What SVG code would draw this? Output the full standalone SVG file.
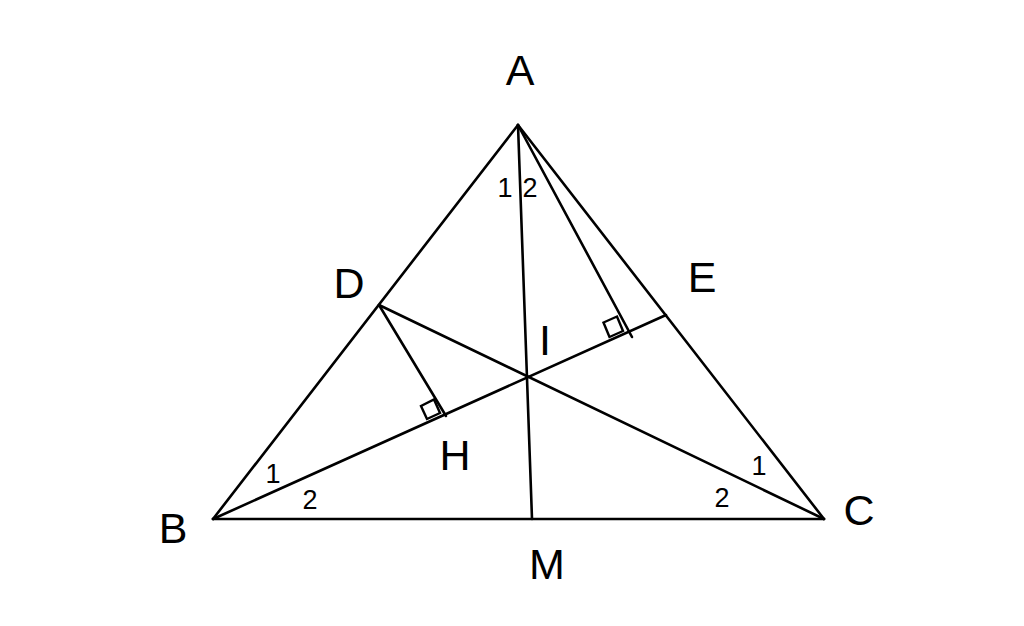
<svg xmlns="http://www.w3.org/2000/svg" width="1024" height="626" viewBox="0 0 1024 626">
<style>
.ln{stroke:#000;stroke-width:2.6;fill:none;stroke-linecap:round;stroke-linejoin:miter}
.sq{stroke:#000;stroke-width:2.4;fill:none}
.lb{font-family:"Liberation Sans",Arial,sans-serif;font-size:43px;fill:#000;text-anchor:middle}
.nm{font-family:"Liberation Sans",Arial,sans-serif;font-size:27px;fill:#000;text-anchor:middle}
</style>
<rect width="1024" height="626" fill="#fff"/>
<g id="connectors">
<line class="ln" x1="518" y1="125" x2="213" y2="519"/>
<line class="ln" x1="518" y1="125" x2="824" y2="519"/>
<line class="ln" x1="213" y1="519" x2="824" y2="519"/>
<line class="ln" x1="518" y1="125" x2="532" y2="519"/>
<line class="ln" x1="213" y1="519" x2="666" y2="315"/>
<line class="ln" x1="824" y1="519" x2="379" y2="305"/>
<line class="ln" x1="379" y1="305" x2="446" y2="416"/>
<line class="ln" x1="518" y1="125" x2="632" y2="337"/>
<polygon class="sq" points="427,419 421,406 434,399.5 440,413"/>
<polygon class="sq" points="609.5,337 603.5,322.5 617,316.5 623,331"/>
</g>
<g id="node-A"><text class="lb" x="520" y="85">A</text></g>
<g id="node-B"><text class="lb" x="173" y="543">B</text></g>
<g id="node-C"><text class="lb" x="859" y="525">C</text></g>
<g id="node-D"><text class="lb" x="349" y="298">D</text></g>
<g id="node-E"><text class="lb" x="702" y="292">E</text></g>
<g id="node-I"><text class="lb" x="545" y="355">I</text></g>
<g id="node-H"><text class="lb" x="455" y="470">H</text></g>
<g id="node-M"><text class="lb" x="547" y="579">M</text></g>
<g id="angle-labels">
<text class="nm" x="505" y="197">1</text>
<text class="nm" x="530" y="197">2</text>
<text class="nm" x="273" y="483">1</text>
<text class="nm" x="310" y="509">2</text>
<text class="nm" x="759" y="475">1</text>
<text class="nm" x="722" y="507">2</text>
</g>
</svg>
